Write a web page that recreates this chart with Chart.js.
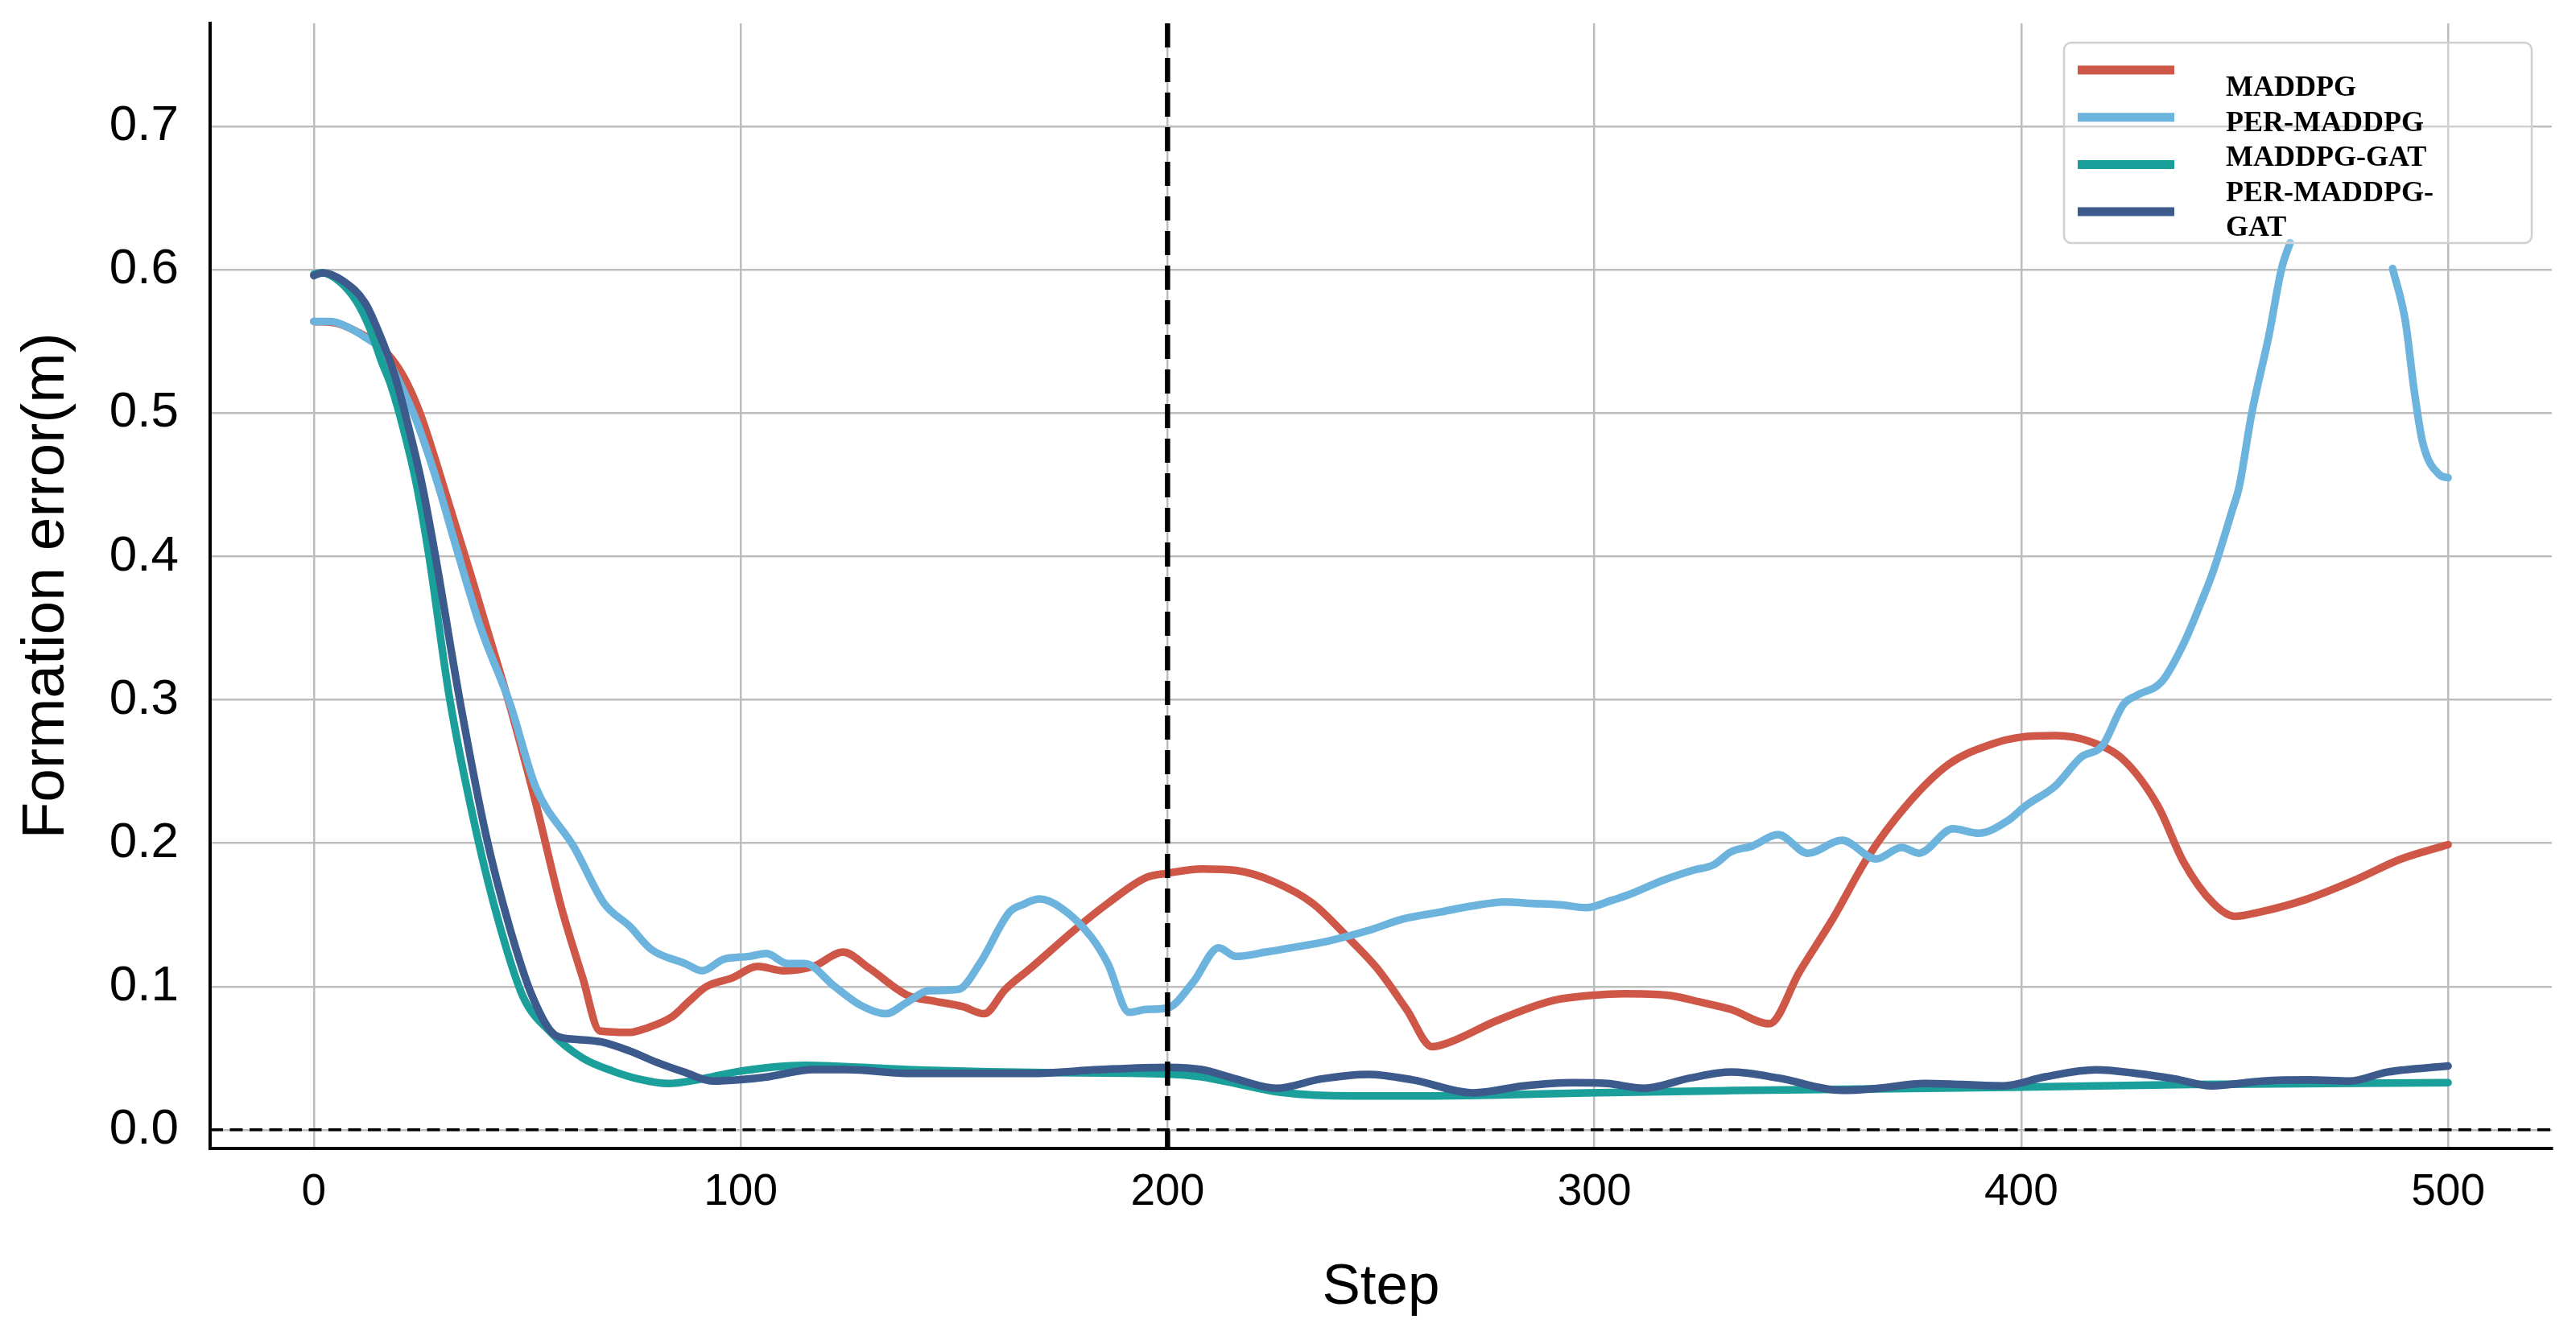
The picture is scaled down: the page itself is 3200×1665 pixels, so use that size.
<!DOCTYPE html>
<html>
<head>
<meta charset="utf-8">
<script src="https://cdn.jsdelivr.net/npm/chart.js@4.4.0/dist/chart.umd.min.js"></script>
<style>
  html, body { margin: 0; padding: 0; background: #fff; }
  #wrap { width: 3200px; height: 1665px; position: relative; }
</style>
</head>
<body>
<div id="wrap"><canvas id="c"></canvas></div>
<script>
// series (step, formation error in m)
const seriesNames = ['MADDPG', 'PER-MADDPG', 'MADDPG-GAT', 'PER-MADDPG-GAT'];
const seriesColors = ['#cf5747', '#6cb4dd', '#1a9f9b', '#3c5a8c'];

const maddpgSteps = [0, 5, 10, 15, 19, 22, 25, 28, 31, 34, 37, 40.3, 46, 52, 58, 63, 67, 74, 78, 84, 88, 92, 98, 104, 110, 117, 124, 130, 139, 145, 152, 157, 162, 168, 178, 186, 195, 200, 208, 216, 225, 234, 242, 249, 256, 262, 266, 277, 290, 300, 307, 317, 325, 332, 341, 348, 356, 364, 373, 383, 393, 400, 408, 416, 424, 432, 438, 445, 450, 456, 467, 478, 489, 500];
const maddpgError = [0.564, 0.563, 0.557, 0.548, 0.535, 0.520, 0.499, 0.472, 0.443, 0.414, 0.385, 0.352, 0.295, 0.228, 0.155, 0.106, 0.069, 0.068, 0.071, 0.079, 0.090, 0.100, 0.106, 0.114, 0.111, 0.114, 0.124, 0.113, 0.094, 0.090, 0.086, 0.081, 0.098, 0.113, 0.139, 0.158, 0.176, 0.179, 0.182, 0.181, 0.173, 0.158, 0.135, 0.113, 0.084, 0.058, 0.061, 0.076, 0.090, 0.094, 0.095, 0.094, 0.089, 0.084, 0.074, 0.110, 0.148, 0.190, 0.226, 0.255, 0.269, 0.274, 0.275, 0.271, 0.258, 0.226, 0.187, 0.158, 0.149, 0.152, 0.161, 0.174, 0.189, 0.199];

const perSteps = [0, 4, 8, 12, 16, 20, 24, 29, 33, 39, 46, 52, 61, 68, 74, 79, 87, 91, 96, 102, 106, 111, 115, 122, 128, 134, 139, 144, 151, 156, 163, 166, 170, 175, 182, 186, 191, 195, 200, 206, 212, 216, 223, 229, 238, 247, 255, 264, 271, 279, 285, 292, 298, 304, 308, 316, 323, 328, 332, 337, 343, 350, 358, 366, 372, 376, 384, 390, 397, 401, 408, 414, 419, 424, 427, 433, 438, 442, 445, 449.5, 451, 454, 458, 461, 463, 475, 487, 490, 492, 494, 498, 500];
const perError = [0.564, 0.564, 0.560, 0.553, 0.544, 0.522, 0.495, 0.451, 0.410, 0.351, 0.297, 0.239, 0.197, 0.158, 0.142, 0.126, 0.116, 0.111, 0.119, 0.121, 0.123, 0.116, 0.116, 0.100, 0.087, 0.081, 0.089, 0.097, 0.098, 0.116, 0.152, 0.157, 0.161, 0.155, 0.135, 0.116, 0.082, 0.084, 0.085, 0.103, 0.127, 0.121, 0.124, 0.127, 0.132, 0.139, 0.147, 0.152, 0.156, 0.159, 0.158, 0.157, 0.155, 0.160, 0.164, 0.174, 0.181, 0.185, 0.194, 0.198, 0.206, 0.193, 0.202, 0.189, 0.197, 0.193, 0.210, 0.207, 0.216, 0.226, 0.240, 0.260, 0.268, 0.297, 0.303, 0.313, 0.339, 0.367, 0.390, 0.433, 0.448, 0.500, 0.554, 0.601, 0.619, null, 0.601, 0.564, 0.517, 0.480, 0.457, 0.455];

const gatSteps = [0, 2, 6, 10, 13, 16, 18, 21, 24, 27, 31.7, 38.2, 43.6, 49, 55.5, 63, 70, 76, 83, 90, 100, 115, 139, 168, 200, 208, 218, 227, 243, 260, 276, 298, 332, 397, 440, 500];
const gatError = [0.597, 0.598, 0.592, 0.578, 0.560, 0.535, 0.520, 0.489, 0.451, 0.400, 0.303, 0.206, 0.142, 0.093, 0.068, 0.050, 0.041, 0.0355, 0.0323, 0.035, 0.041, 0.045, 0.042, 0.040, 0.039, 0.037, 0.031, 0.026, 0.0236, 0.0236, 0.0242, 0.0258, 0.0274, 0.0297, 0.0316, 0.0329];

const perGatSteps = [0, 2, 7, 12, 15, 19, 22.3, 25.3, 28.5, 34, 40.3, 45.8, 51.2, 56.6, 62, 67.4, 74, 80.4, 87, 93.4, 100, 106.4, 117, 125, 139, 168, 184, 200, 208, 216, 225.5, 236, 247, 257.5, 271.6, 283.5, 295, 303, 311.6, 322.5, 332, 343, 358, 366.6, 377.4, 386, 395.8, 405.6, 417.5, 427, 436, 444.6, 456.5, 467.3, 477, 485.7, 500];
const perGatError = [0.596, 0.598, 0.592, 0.577, 0.558, 0.526, 0.489, 0.451, 0.400, 0.303, 0.206, 0.142, 0.093, 0.066, 0.063, 0.0613, 0.055, 0.047, 0.040, 0.034, 0.035, 0.037, 0.042, 0.042, 0.0394, 0.0394, 0.042, 0.0436, 0.042, 0.0355, 0.029, 0.0355, 0.0387, 0.0348, 0.0258, 0.0307, 0.0329, 0.0323, 0.029, 0.0362, 0.0403, 0.0362, 0.0275, 0.029, 0.0323, 0.0316, 0.0307, 0.037, 0.0419, 0.0394, 0.0355, 0.0307, 0.034, 0.0348, 0.034, 0.0403, 0.0445];

const xTickValues = [0, 100, 200, 300, 400, 500];
const yTickValues = [0, 0.1, 0.2, 0.3, 0.4, 0.5, 0.6, 0.7];
const markerStep = 200;   // vertical dashed line
const zeroError = 0;      // horizontal dashed line

const allSteps = [maddpgSteps, perSteps, gatSteps, perGatSteps];
const allErrors = [maddpgError, perError, gatError, perGatError];

function toPoints(steps, vals) {
  return steps.map((s, i) => ({ x: s, y: vals[i] }));
}

// dashed reference lines, drawn over the curves
const refLines = {
  id: 'refLines',
  afterDatasetsDraw(chart) {
    const { ctx, chartArea: a, scales } = chart;
    const xp = scales.x.getPixelForValue(markerStep);
    const yp = scales.y.getPixelForValue(zeroError);
    ctx.save();
    ctx.strokeStyle = '#000';
    ctx.lineWidth = 6.5;
    ctx.setLineDash([30, 13]);
    ctx.beginPath();
    ctx.moveTo(xp, a.top);
    ctx.lineTo(xp, a.bottom);
    ctx.stroke();
    ctx.lineWidth = 3.5;
    ctx.setLineDash([16, 8.5]);
    ctx.beginPath();
    ctx.moveTo(a.left, yp);
    ctx.lineTo(a.right, yp);
    ctx.stroke();
    ctx.restore();
  }
};

// legend box like the matplotlib one (long label wrapped after last hyphen)
const boxLegend = {
  id: 'boxLegend',
  afterDraw(chart) {
    const ctx = chart.ctx;
    const bx = 2564, by = 53, bw = 581, bh = 249, r = 9;
    ctx.save();
    ctx.beginPath();
    ctx.moveTo(bx + r, by);
    ctx.arcTo(bx + bw, by, bx + bw, by + bh, r);
    ctx.arcTo(bx + bw, by + bh, bx, by + bh, r);
    ctx.arcTo(bx, by + bh, bx, by, r);
    ctx.arcTo(bx, by, bx + bw, by, r);
    ctx.closePath();
    ctx.fillStyle = 'rgba(255,255,255,0.3)';
    ctx.fill();
    ctx.strokeStyle = '#d0d0d0';
    ctx.lineWidth = 2.5;
    ctx.stroke();

    ctx.lineCap = 'butt';
    ctx.lineWidth = 11;
    seriesColors.forEach((c, i) => {
      const y = 87 + i * 58.7;
      ctx.strokeStyle = c;
      ctx.beginPath();
      ctx.moveTo(2581, y);
      ctx.lineTo(2701, y);
      ctx.stroke();
    });

    const lines = [];
    seriesNames.forEach(n => {
      if (n.length > 12) {
        const k = n.lastIndexOf('-');
        lines.push(n.slice(0, k + 1), n.slice(k + 1));
      } else {
        lines.push(n);
      }
    });
    ctx.fillStyle = '#000';
    ctx.font = 'bold 36px "Liberation Serif", "Times New Roman", serif';
    ctx.textAlign = 'left';
    ctx.textBaseline = 'alphabetic';
    lines.forEach((t, j) => ctx.fillText(t, 2765, 119 + j * 43.5));
    ctx.restore();
  }
};

const ctx = document.getElementById('c');
new Chart(ctx, {
  type: 'line',
  data: {
    datasets: seriesNames.map((name, i) => ({
      label: name,
      data: toPoints(allSteps[i], allErrors[i]),
      borderColor: seriesColors[i],
      borderWidth: 9.5,
      pointRadius: 0,
      fill: false,
      cubicInterpolationMode: 'monotone',
      borderCapStyle: 'round',
      borderJoinStyle: 'round',
      spanGaps: false,
      order: seriesNames.length - 1 - i
    }))
  },
  options: {
    responsive: true,
    maintainAspectRatio: false,
    animation: false,
    devicePixelRatio: 1,
    layout: { padding: { top: 29, right: 30, left: 0, bottom: 0 } },
    plugins: {
      legend: { display: false },
      tooltip: { enabled: false }
    },
    scales: {
      x: {
        type: 'linear',
        min: -24.3,
        max: 524.3,
        afterBuildTicks: s => { s.ticks = xTickValues.map(v => ({ value: v })); },
        afterFit: s => { s.height = 238; s.paddingLeft = 0; s.paddingRight = 0; },
        ticks: {
          color: '#000',
          padding: 22,
          maxRotation: 0,
          font: { family: '"Liberation Sans", Arial, sans-serif', size: 55 },
          callback: v => String(v)
        },
        grid: { color: '#bdbdbd', lineWidth: 2.5, drawTicks: false },
        border: { display: true, color: '#000', width: 4 },
        title: {
          display: true,
          text: 'Step',
          color: '#000',
          font: { family: '"Liberation Sans", Arial, sans-serif', size: 71 },
          padding: { top: 0, bottom: 22 }
        }
      },
      y: {
        type: 'linear',
        min: -0.013,
        max: 0.772,
        afterBuildTicks: s => { s.ticks = yTickValues.map(v => ({ value: v })); },
        afterFit: s => { s.width = 261; s.paddingTop = 0; s.paddingBottom = 0; },
        ticks: {
          color: '#000',
          padding: 39,
          font: { family: '"Liberation Sans", Arial, sans-serif', size: 62 },
          callback: v => Number(v).toFixed(1)
        },
        grid: { color: '#bdbdbd', lineWidth: 2.5, drawTicks: false },
        border: { display: true, color: '#000', width: 4 },
        title: {
          display: true,
          text: 'Formation error(m)',
          color: '#000',
          font: { family: '"Liberation Sans", Arial, sans-serif', size: 75 },
          padding: { top: 13, bottom: 0 }
        }
      }
    }
  },
  plugins: [refLines, boxLegend]
});
</script>
</body>
</html>
